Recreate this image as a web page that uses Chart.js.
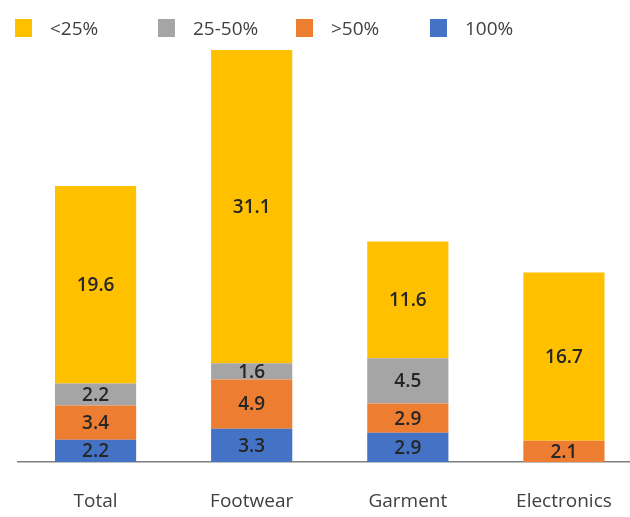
<!DOCTYPE html>
<html>
<head>
<meta charset="utf-8">
<script src="https://cdn.jsdelivr.net/npm/chart.js@4"></script>
<style>
  body { margin: 0; overflow: hidden; background: #fff; font-family: "Open Sans", sans-serif; }
  #wrap { position: relative; width: 642px; height: 517px; }
  #mixChart { position: absolute; left: 0; top: 0; }
  #legend { position: absolute; top: 0; left: 0; width: 630px; height: 45px; }
  .item { position: absolute; top: 19px; height: 18px; }
  .box { position: absolute; left: 0; top: 0; width: 17px; height: 18px; }
  .txt { position: absolute; left: 35px; top: -4px; font-size: 19px; line-height: 26px; color: #404040; white-space: nowrap; }
</style>
</head>
<body>
<div id="wrap">
  <canvas id="mixChart" width="642" height="517"></canvas>
  <div id="legend"></div>
</div>
<script>
// categories + series (stack order bottom -> top)
const categories = ["Total", "Footwear", "Garment", "Electronics"];
const full = [2.2, 3.3, 2.9, null];        // 100%
const over50 = [3.4, 4.9, 2.9, 2.1];        // >50%
const mid = [2.2, 1.6, 4.5, null];          // 25-50%
const under25 = [19.6, 31.1, 11.6, 16.7];   // <25%

const seriesNames = ["100%", ">50%", "25-50%", "<25%"];
const seriesColors = ["#4472C4", "#ED7D31", "#A5A5A5", "#FFC000"];
const legendX = [430, 296, 158, 15]; // where each legend box sits

// draw the numbers in the middle of each segment
const segLabels = {
  id: "segLabels",
  afterDatasetsDraw(chart) {
    const ctx = chart.ctx;
    ctx.save();
    ctx.font = "600 19px 'Open Sans'";
    ctx.fillStyle = "#262626";
    ctx.textAlign = "center";
    ctx.textBaseline = "middle";
    chart.data.datasets.forEach((ds, i) => {
      const meta = chart.getDatasetMeta(i);
      meta.data.forEach((bar, j) => {
        const v = ds.data[j];
        if (v == null) return;
        ctx.fillText(v.toFixed(1), bar.x, (bar.y + bar.base) / 2 + 1);
      });
    });
    ctx.restore();
  }
};

const allData = [full, over50, mid, under25];
const datasets = [];
for (let s = 0; s < allData.length; s++) {
  datasets.push({
    label: seriesNames[s],
    data: allData[s],
    backgroundColor: seriesColors[s],
    borderWidth: 0,
    categoryPercentage: 1,
    barPercentage: 0.52
  });
}

var canvasElement = document.getElementById("mixChart");
var config = {
  type: "bar",
  data: { labels: categories, datasets: datasets },
  options: {
    responsive: false,
    animation: false,
    layout: { padding: { top: 49, left: 17.5, right: 0, bottom: 3 } },
    plugins: { legend: { display: false }, tooltip: { enabled: false } },
    scales: {
      x: {
        stacked: true,
        grid: { display: false, drawTicks: false },
        border: { display: true, color: "#7F7F7F", width: 1.5 },
        ticks: { padding: 28, color: "#404040", font: { family: "Open Sans", size: 19 } },
        afterFit(scale) { scale.height = 52; }
      },
      y: {
        stacked: true,
        display: false,
        min: 0,
        max: 41
      }
    }
  },
  plugins: [segLabels]
};

var mixChart = new Chart(canvasElement, config);

// html legend, reversed like the original (<25% first)
const legendEl = document.getElementById("legend");
for (let s = seriesNames.length - 1; s >= 0; s--) {
  const it = document.createElement("div");
  it.className = "item";
  it.style.left = legendX[s] + "px";
  it.innerHTML = '<div class="box" style="background:' + seriesColors[s] + '"></div><div class="txt">' +
    seriesNames[s].replace("<", "&lt;").replace(">", "&gt;") + '</div>';
  legendEl.appendChild(it);
}
</script>
</body>
</html>
